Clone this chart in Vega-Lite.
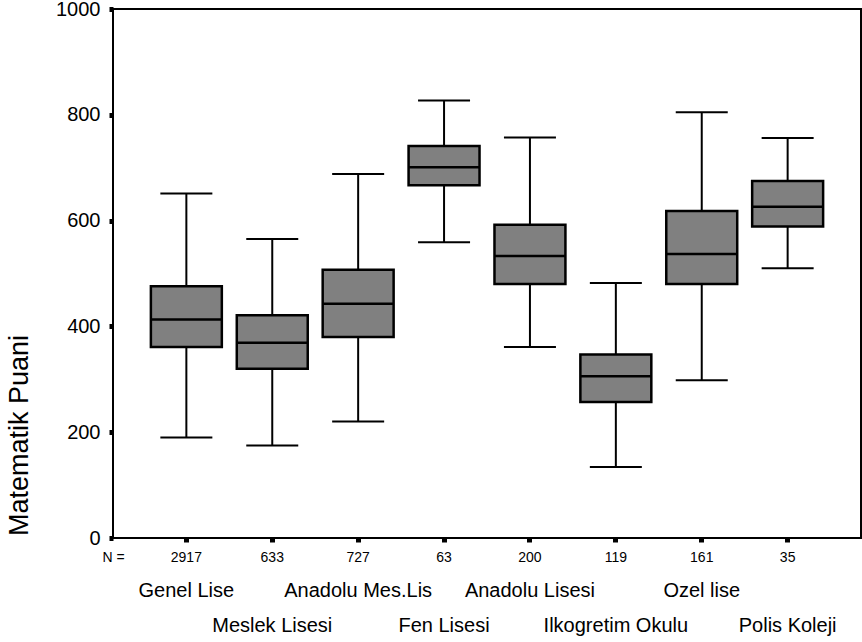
{
  "$schema": "https://vega.github.io/schema/vega-lite/v6.json",
  "width": 748,
  "height": 529,
  "autosize": {"type": "none"},
  "padding": {"left": 113, "top": 9, "right": 1, "bottom": 104},
  "background": "white",
  "data": {
    "values": [
      {"cat": "Genel Lise", "n": 2917, "lo": 190, "q1": 361, "med": 413, "q3": 476, "hi": 651},
      {"cat": "Meslek Lisesi", "n": 633, "lo": 175, "q1": 320, "med": 369, "q3": 421, "hi": 565},
      {"cat": "Anadolu Mes.Lis", "n": 727, "lo": 220, "q1": 380, "med": 443, "q3": 507, "hi": 688},
      {"cat": "Fen Lisesi", "n": 63, "lo": 559, "q1": 667, "med": 701, "q3": 741, "hi": 827},
      {"cat": "Anadolu Lisesi", "n": 200, "lo": 361, "q1": 480, "med": 533, "q3": 592, "hi": 757},
      {"cat": "Ilkogretim Okulu", "n": 119, "lo": 134, "q1": 257, "med": 306, "q3": 347, "hi": 482},
      {"cat": "Ozel lise", "n": 161, "lo": 298, "q1": 480, "med": 537, "q3": 618, "hi": 805},
      {"cat": "Polis Koleji", "n": 35, "lo": 510, "q1": 589, "med": 626, "q3": 675, "hi": 756}
    ]
  },
  "resolve": {"axis": {"x": "independent"}},
  "layer": [
    {
      "mark": {"type": "rule", "color": "black", "strokeWidth": 2},
      "encoding": {
        "x": {
          "field": "cat", "type": "nominal",
          "sort": ["Genel Lise", "Meslek Lisesi", "Anadolu Mes.Lis", "Fen Lisesi", "Anadolu Lisesi", "Ilkogretim Okulu", "Ozel lise", "Polis Koleji"],
          "scale": {"type": "band", "paddingInner": 0, "paddingOuter": 0.354},
          "axis": {
            "orient": "bottom",
            "title": "N =",
            "titleX": 0,
            "titleY": 19.5,
            "titleAlign": "center",
            "titleBaseline": "middle",
            "titleFontSize": 14,
            "titleFontWeight": "normal",
            "titleFont": "Liberation Sans",
            "titleColor": "black",
            "domain": false,
            "ticks": true,
            "tickSize": 4,
            "tickWidth": 5,
            "tickColor": "black",
            "labelAngle": 0,
            "labelFontSize": 14,
            "labelFont": "Liberation Sans",
            "labelColor": "black",
            "labelBaseline": "middle",
            "labelPadding": 15.5,
            "labelOverlap": false,
            "labelExpr": "['2917','633','727','63','200','119','161','35'][indexof(['Genel Lise','Meslek Lisesi','Anadolu Mes.Lis','Fen Lisesi','Anadolu Lisesi','Ilkogretim Okulu','Ozel lise','Polis Koleji'], datum.value)]"
          }
        },
        "y": {
          "field": "lo", "type": "quantitative",
          "scale": {"domain": [0, 1000], "nice": false, "zero": false},
          "axis": {"title": "Matematik Puani", "values": [0, 200, 400, 600, 800, 1000], "format": "d", "domain": false, "grid": false, "tickSize": 4, "tickWidth": 5, "tickColor": "black", "labelFontSize": 20, "labelFont": "Liberation Sans", "labelColor": "black", "labelPadding": 9, "titleFontSize": 27, "titleFont": "Liberation Sans", "titleFontWeight": "normal", "titleColor": "black", "titleX": -94, "titleY": 426, "titleAlign": "center", "titleBaseline": "middle", "titleAngle": -90}
        },
        "y2": {"field": "hi"}
      }
    },
    {
      "mark": {"type": "bar", "fill": "#808080", "stroke": "black", "strokeWidth": 2.5, "width": {"band": 0.826}, "opacity": 1},
      "encoding": {
        "x": {"field": "cat", "type": "nominal", "sort": ["Genel Lise", "Meslek Lisesi", "Anadolu Mes.Lis", "Fen Lisesi", "Anadolu Lisesi", "Ilkogretim Okulu", "Ozel lise", "Polis Koleji"], "axis": null},
        "y": {"field": "q1", "type": "quantitative",
          "axis": {"title": "Matematik Puani", "values": [0, 200, 400, 600, 800, 1000], "format": "d", "domain": false, "grid": false, "tickSize": 4, "tickWidth": 5, "tickColor": "black", "labelFontSize": 20, "labelFont": "Liberation Sans", "labelColor": "black", "labelPadding": 9, "titleFontSize": 27, "titleFont": "Liberation Sans", "titleFontWeight": "normal", "titleColor": "black", "titleX": -94, "titleY": 426, "titleAlign": "center", "titleBaseline": "middle", "titleAngle": -90}},
        "y2": {"field": "q3"}
      }
    },
    {
      "mark": {"type": "tick", "color": "black", "size": 52, "thickness": 2, "opacity": 1},
      "encoding": {
        "x": {"field": "cat", "type": "nominal", "sort": ["Genel Lise", "Meslek Lisesi", "Anadolu Mes.Lis", "Fen Lisesi", "Anadolu Lisesi", "Ilkogretim Okulu", "Ozel lise", "Polis Koleji"], "axis": null},
        "y": {"field": "lo", "type": "quantitative",
          "axis": {"title": "Matematik Puani", "values": [0, 200, 400, 600, 800, 1000], "format": "d", "domain": false, "grid": false, "tickSize": 4, "tickWidth": 5, "tickColor": "black", "labelFontSize": 20, "labelFont": "Liberation Sans", "labelColor": "black", "labelPadding": 9, "titleFontSize": 27, "titleFont": "Liberation Sans", "titleFontWeight": "normal", "titleColor": "black", "titleX": -94, "titleY": 426, "titleAlign": "center", "titleBaseline": "middle", "titleAngle": -90}}
      }
    },
    {
      "mark": {"type": "tick", "color": "black", "size": 52, "thickness": 2, "opacity": 1},
      "encoding": {
        "x": {"field": "cat", "type": "nominal", "sort": ["Genel Lise", "Meslek Lisesi", "Anadolu Mes.Lis", "Fen Lisesi", "Anadolu Lisesi", "Ilkogretim Okulu", "Ozel lise", "Polis Koleji"], "axis": null},
        "y": {"field": "hi", "type": "quantitative",
          "axis": {"title": "Matematik Puani", "values": [0, 200, 400, 600, 800, 1000], "format": "d", "domain": false, "grid": false, "tickSize": 4, "tickWidth": 5, "tickColor": "black", "labelFontSize": 20, "labelFont": "Liberation Sans", "labelColor": "black", "labelPadding": 9, "titleFontSize": 27, "titleFont": "Liberation Sans", "titleFontWeight": "normal", "titleColor": "black", "titleX": -94, "titleY": 426, "titleAlign": "center", "titleBaseline": "middle", "titleAngle": -90}}
      }
    },
    {
      "mark": {"type": "tick", "color": "black", "size": 71, "thickness": 2.5, "opacity": 1},
      "encoding": {
        "x": {
          "field": "cat", "type": "nominal",
          "sort": ["Genel Lise", "Meslek Lisesi", "Anadolu Mes.Lis", "Fen Lisesi", "Anadolu Lisesi", "Ilkogretim Okulu", "Ozel lise", "Polis Koleji"],
          "axis": {
            "orient": "bottom",
            "title": null,
            "domain": false,
            "ticks": false,
            "tickSize": 0,
            "labelAngle": 0,
            "labelFontSize": 20,
            "labelFont": "Liberation Sans",
            "labelColor": "black",
            "labelBaseline": "top",
            "labelLineHeight": 35,
            "labelPadding": 42,
            "labelOverlap": false,
            "labelBound": false,
            "labelLimit": 0,
            "labelExpr": "indexof(['Genel Lise','Meslek Lisesi','Anadolu Mes.Lis','Fen Lisesi','Anadolu Lisesi','Ilkogretim Okulu','Ozel lise','Polis Koleji'], datum.value) % 2 == 0 ? datum.value : ['', datum.value]"
          }
        },
        "y": {"field": "med", "type": "quantitative",
          "axis": {"title": "Matematik Puani", "values": [0, 200, 400, 600, 800, 1000], "format": "d", "domain": false, "grid": false, "tickSize": 4, "tickWidth": 5, "tickColor": "black", "labelFontSize": 20, "labelFont": "Liberation Sans", "labelColor": "black", "labelPadding": 9, "titleFontSize": 27, "titleFont": "Liberation Sans", "titleFontWeight": "normal", "titleColor": "black", "titleX": -94, "titleY": 426, "titleAlign": "center", "titleBaseline": "middle", "titleAngle": -90}}
      }
    }
  ],
  "config": {
    "view": {"stroke": "black", "strokeWidth": 2}
  }
}
